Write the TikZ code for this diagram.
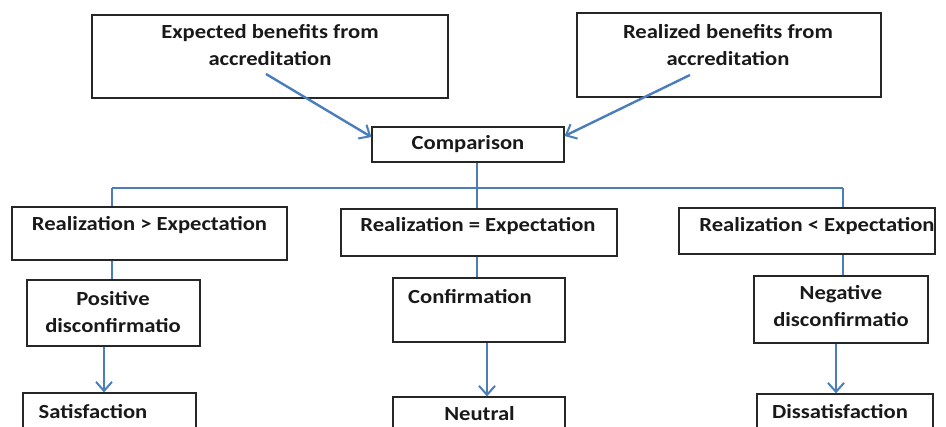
\documentclass[tikz,border=0pt]{standalone}
\usepackage{fontspec}
\setmainfont{Carlito}[FakeStretch=1.13]
\usetikzlibrary{arrows.meta}
\definecolor{lineblue}{RGB}{74,126,187}
\tikzset{
  box/.style={draw=black!85, line width=1.2pt, minimum width=#1, inner sep=0pt},
  txt/.style={font=\bfseries\fontsize{20}{27}\selectfont, align=center, inner sep=0pt, text=black!90},
  conn/.style={draw=lineblue, line width=2.4pt},
  thin/.style={draw=lineblue, line width=1.2pt},
  arr/.style={draw=lineblue, line width=2.4pt, -{Straight Barb[length=9pt,width=16pt,line width=2pt]}}
}
\begin{document}
\begin{tikzpicture}[x=1pt,y=-1pt]
\useasboundingbox (0,0) rectangle (946,427);
\clip (0,0) rectangle (946,427);
% boxes
\node[box=356pt, minimum height=83pt] (e) at (270,56.5) {};
\node[box=304pt, minimum height=84pt] (r) at (729,55) {};
\node[box=192pt, minimum height=35pt] (c) at (468,144.5) {};
\node[box=275pt, minimum height=53pt] (g) at (149.5,233.5) {};
\node[box=276pt, minimum height=47pt] (q) at (479,232.5) {};
\node[box=256pt, minimum height=46pt] (l) at (807,231) {};
\node[box=173pt, minimum height=66pt] (p) at (113.5,313) {};
\node[box=172pt, minimum height=64pt] (cf) at (479,310) {};
\node[box=174pt, minimum height=67pt] (n) at (841,309.5) {};
\node[box=173pt, minimum height=47pt] (s) at (109.5,416.5) {};
\node[box=172pt, minimum height=43pt] (nt) at (479,418.5) {};
\node[box=176pt, minimum height=46pt] (d) at (845,417) {};
% texts
\node[txt] (et) at (270,45.5) {Expected benefits from\\accreditation};
\node[txt] (rt) at (728,45) {Realized benefits from\\accreditation};
\node[txt] (ct) at (468,144) {Comparison};
\node[txt] (gt) at (149.5,225) {Realization > Expectation};
\node[txt] (qt) at (478,226) {Realization = Expectation};
\node[txt] (lt) at (817,226) {Realization < Expectation};
\node[txt] (pt) at (113,312.5) {Positive\\disconfirmatio};
\node[txt] (cft) at (470,297) {Confirmation};
\node[txt] (nnt) at (841,306.5) {Negative\\disconfirmatio};
\node[txt] (st) at (93,412) {Satisfaction};
\node[txt] (ntt) at (479.5,414) {Neutral};
\node[txt] (dt) at (840,412) {Dissatisfaction};
% connectors
\coordinate (ea) at (266,74);
\coordinate (ra) at (690,75);
\draw[arr] (ea) -- (c.west |- 0,137);
\draw[arr] (ra) -- (c.east |- 0,136);
\coordinate (hb) at (477,188);
\coordinate (hl) at (112,188);
\coordinate (hr) at (843,188);
\draw[conn] (c.south -| hb) -- (hb);
\draw[thin] (hl) -- (hr);
\draw[conn] (hl) -- (hl |- g.north);
\draw[conn] (hb) -- (hb |- q.north);
\draw[conn] (hr) -- (hr |- l.north);
\draw[conn] (g.south -| hl) -- (p.north -| hl);
\draw[conn] (q.south -| hb) -- (cf.north -| hb);
\draw[conn] (l.south -| hr) -- (n.north -| hr);
\draw[arr] (p.south -| 104,0) -- (s.north -| 104,0);
\draw[arr] (cf.south -| 487,0) -- (nt.north -| 487,0);
\draw[arr] (n.south -| 836,0) -- (d.north -| 836,0);
\end{tikzpicture}
\end{document}
